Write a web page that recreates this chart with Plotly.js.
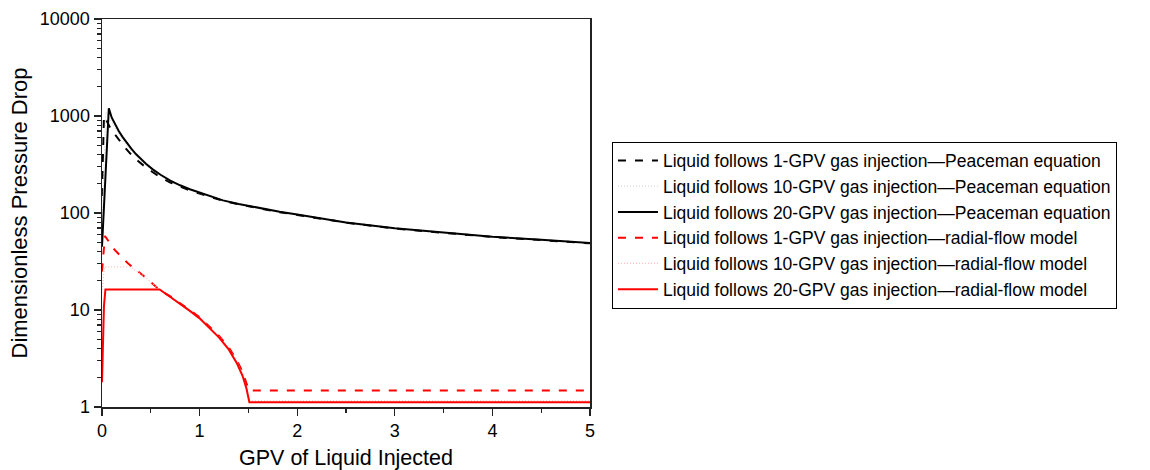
<!DOCTYPE html>
<html>
<head>
<meta charset="utf-8">
<script src="https://cdn.plot.ly/plotly-3.0.1.min.js"></script>
<style>
html,body{margin:0;padding:0;background:#fff;}
#chart{width:1150px;height:470px;}
</style>
</head>
<body>
<div id="chart"></div>
<script>
// ---- data ----
const seriesNames = [
  "Liquid follows 1-GPV gas injection\u2014Peaceman equation",
  "Liquid follows 10-GPV gas injection\u2014Peaceman equation",
  "Liquid follows 20-GPV gas injection\u2014Peaceman equation",
  "Liquid follows 1-GPV gas injection\u2014radial-flow model",
  "Liquid follows 10-GPV gas injection\u2014radial-flow model",
  "Liquid follows 20-GPV gas injection\u2014radial-flow model"
];

const pc1X = [0, 0.02, 0.05, 0.08, 0.13, 0.18, 0.23, 0.3, 0.37, 0.45, 0.52, 0.6, 0.7, 0.8, 0.9, 1.0, 1.1, 1.24, 1.4, 1.585, 1.82, 2.0, 2.5, 3.0, 3.5, 4.0, 4.5, 5.0];
const pc1Y = [150, 1000, 880, 770, 650, 555, 480, 400, 343, 295, 262, 233, 206, 186, 171, 158.5, 147.5, 133.5, 123, 113, 102, 95.5, 79.5, 69, 62, 56.6, 52.6, 48.7];

const pc10X = [0, 0.04, 0.07, 0.1, 0.13, 0.18, 0.23, 0.3, 0.37, 0.45, 0.52, 0.6, 0.7, 0.8, 0.9, 1.0, 1.1, 1.24, 1.4, 1.585, 1.82, 2.0, 2.5, 3.0, 3.5, 4.0, 4.5, 5.0];
const pc10Y = [80, 1100, 960, 870, 760, 630, 530, 435, 365, 310, 272, 241, 211, 190, 174, 160, 149, 134.5, 123.5, 113.5, 102.5, 96, 80, 69.3, 62.3, 56.8, 52.8, 48.9];

const pc20X = [0, 0.07, 0.1, 0.13, 0.17, 0.21, 0.25, 0.3, 0.35, 0.4, 0.45, 0.52, 0.6, 0.7, 0.8, 0.9, 1.0, 1.1, 1.24, 1.4, 1.585, 1.82, 2.0, 2.5, 3.0, 3.5, 4.0, 4.5, 5.0];
const pc20Y = [45, 1200, 960, 830, 705, 610, 535, 460, 403, 358, 322, 282, 248, 216, 193, 176, 162, 150, 135, 124, 114, 103, 96.5, 80, 69.5, 62.5, 57, 53, 49];

const rf1X = [0, 0.03, 0.13, 0.265, 0.437, 0.59, 0.7, 0.8, 0.9, 1.0, 1.1, 1.2, 1.3, 1.38, 1.44, 1.48, 1.505, 5.0];
const rf1Y = [25, 58, 41.6, 30.3, 22, 16.1, 13.8, 11.8, 10.0, 8.4, 6.8, 5.4, 4.1, 3.05, 2.3, 1.75, 1.48, 1.48];

const rf10X = [0, 0.025, 0.29, 0.437, 0.59, 0.7, 0.8, 0.9, 1.0, 1.1, 1.2, 1.3, 1.38, 1.44, 1.48, 1.51, 5.0];
const rf10Y = [15, 27.9, 27.9, 22, 16.2, 13.7, 11.7, 9.9, 8.3, 6.7, 5.3, 4.0, 2.95, 2.2, 1.6, 1.16, 1.16];

const rf20X = [0, 0.01, 0.02, 0.035, 0.59, 0.7, 0.8, 0.9, 1.0, 1.1, 1.2, 1.3, 1.38, 1.44, 1.48, 1.51, 5.0];
const rf20Y = [1.8, 5, 11, 16.3, 16.3, 13.6, 11.6, 9.8, 8.2, 6.6, 5.2, 3.9, 2.85, 2.1, 1.55, 1.12, 1.12];

const yTickVals = [1, 10, 100, 1000, 10000];
const yTickText = ["1", "10", "100", "1000", "10000"];
const xTickVals = [0, 1, 2, 3, 4, 5];

// ---- traces ----
const traces = [
  {x: pc1X, y: pc1Y, name: seriesNames[0], line: {color: "#000", width: 2, dash: "8px,9px"}},
  {x: pc10X, y: pc10Y, name: seriesNames[1], line: {color: "rgb(205,205,205)", width: 1, dash: "1px,2px"}},
  {x: pc20X, y: pc20Y, name: seriesNames[2], line: {color: "#000", width: 2}},
  {x: rf1X, y: rf1Y, name: seriesNames[3], line: {color: "rgb(255,0,0)", width: 2, dash: "8px,9px"}},
  {x: rf10X, y: rf10Y, name: seriesNames[4], line: {color: "rgb(255,190,190)", width: 1.2, dash: "1px,2px"}},
  {x: rf20X, y: rf20Y, name: seriesNames[5], line: {color: "rgb(255,0,0)", width: 2}}
].map(t => Object.assign({type: "scatter", mode: "lines", hoverinfo: "skip"}, t));

const font = {family: "'Liberation Sans', Arial, Helvetica, sans-serif", color: "#000"};

const layout = {
  width: 1150, height: 470,
  margin: {l: 102, r: 560, t: 19, b: 63, pad: 0},
  paper_bgcolor: "#fff", plot_bgcolor: "#fff",
  font: Object.assign({size: 18}, font),
  showlegend: true,
  legend: {
    x: 1.045, xanchor: "left", y: 0.469, yanchor: "middle",
    bordercolor: "#000", borderwidth: 1, bgcolor: "#fff",
    font: Object.assign({size: 17.5}, font),
    itemwidth: 40,
    tracegroupgap: 0
  },
  xaxis: {
    range: [0, 5], tickvals: xTickVals, ticktext: xTickVals.map(String),
    ticks: "outside", ticklen: 7, tickwidth: 1.2, tickcolor: "#222",
    minor: {dtick: 0.5, tick0: 0, ticks: "outside", ticklen: 4, tickwidth: 1.2, tickcolor: "#222", showgrid: false},
    showline: true, linecolor: "#222", linewidth: 1.5, mirror: true,
    showgrid: false, zeroline: false,
    tickfont: Object.assign({size: 18}, font),
    title: {text: "GPV of Liquid Injected", font: Object.assign({size: 21.5}, font), standoff: 10}
  },
  yaxis: {
    type: "log", range: [0, 4], tickvals: yTickVals, ticktext: yTickText,
    ticks: "outside", ticklen: 7, tickwidth: 1.2, tickcolor: "#222",
    minor: {dtick: "D1", ticks: "outside", ticklen: 4, tickwidth: 1.2, tickcolor: "#222", showgrid: false},
    showline: true, linecolor: "#222", linewidth: 1.5, mirror: true,
    showgrid: false, zeroline: false,
    tickfont: Object.assign({size: 18}, font),
    title: {text: "Dimensionless Pressure Drop", font: Object.assign({size: 22}, font), standoff: 6}
  }
};

Plotly.newPlot("chart", traces, layout, {displayModeBar: false, staticPlot: true});
</script>
</body>
</html>
